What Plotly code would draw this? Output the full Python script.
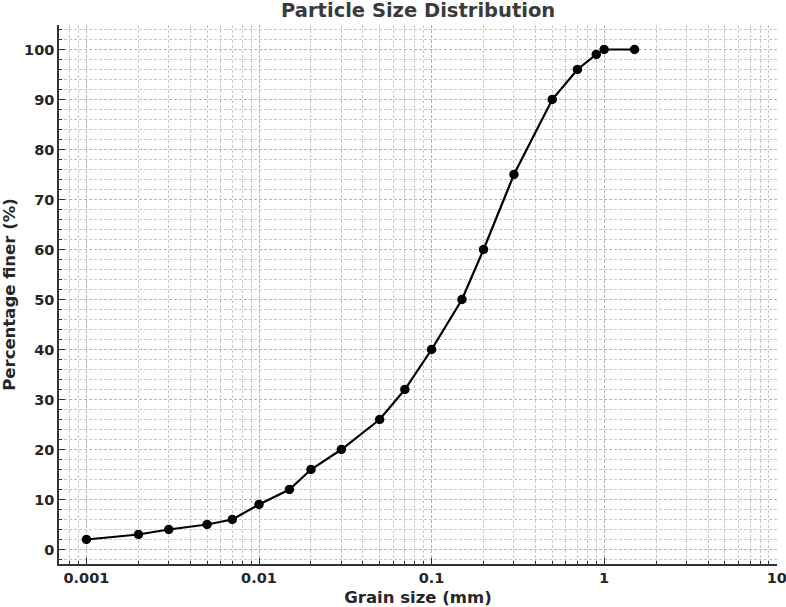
import plotly.graph_objects as go

grain_size_mm = [0.001, 0.002, 0.003, 0.005, 0.007, 0.01, 0.015, 0.02, 0.03, 0.05,
                 0.07, 0.1, 0.15, 0.2, 0.3, 0.5, 0.7, 0.9, 1.0, 1.5]
percent_finer = [2, 3, 4, 5, 6, 9, 12, 16, 20, 26,
                 32, 40, 50, 60, 75, 90, 96, 99, 100, 100]

x_tick_vals = [0.001, 0.01, 0.1, 1, 10]
x_tick_text = ["0.001", "0.01", "0.1", "1", "10"]
y_tick_vals = [0, 10, 20, 30, 40, 50, 60, 70, 80, 90, 100]

font_fam = "DejaVu Sans"
txt = "#262626"

fig = go.Figure()
fig.add_trace(go.Scatter(
    x=grain_size_mm, y=percent_finer, mode="lines+markers",
    line=dict(color="black", width=2.2),
    marker=dict(color="black", size=9.5),
    showlegend=False,
))

fig.update_layout(
    width=786, height=607,
    margin=dict(l=59, r=9, t=25, b=43),
    paper_bgcolor="white", plot_bgcolor="white",
    font=dict(family=font_fam, color=txt),
    title=dict(text="Particle Size Distribution", x=0.532, xanchor="center",
               y=0.994, yanchor="top", yref="container",
               font=dict(size=19.5, color="#3a3a3a", family=font_fam, weight="bold")),
)
fig.update_xaxes(
    type="log", range=[-3.159, 1.0015], automargin=False,
    tickvals=x_tick_vals, ticktext=x_tick_text, ticklabeloverflow="allow",
    ticks="inside", ticklen=6, tickwidth=1.2, tickcolor="#333",
    showline=True, linecolor="#333", linewidth=1.5, mirror=False,
    tickfont=dict(size=14.5, family=font_fam, color=txt, weight="bold"),
    title=dict(text="Grain size (mm)", font=dict(size=16.5, color=txt, weight="bold"), standoff=9),
    showgrid=True, gridcolor="#b5b5b5", gridwidth=0.8, griddash="3px,2px", zeroline=False,
    minor=dict(dtick="D1", ticks="inside", ticklen=3, tickcolor="#333",
               showgrid=True, gridcolor="#c8c8c8", gridwidth=0.8, griddash="3px,2px"),
)
fig.update_yaxes(
    range=[-2.9, 104.9], automargin=False,
    tickvals=y_tick_vals,
    ticks="inside", ticklen=6, tickwidth=1.2, tickcolor="#333",
    showline=True, linecolor="#333", linewidth=1.5, mirror=False,
    tickfont=dict(size=14.5, family=font_fam, color=txt, weight="bold"),
    title=dict(text="Percentage finer (%)", font=dict(size=16.5, color=txt, weight="bold"), standoff=11),
    showgrid=True, gridcolor="#b5b5b5", gridwidth=0.8, griddash="3px,2px", zeroline=False,
    minor=dict(dtick=2, ticks="inside", ticklen=3, tickcolor="#333",
               showgrid=True, gridcolor="#c8c8c8", gridwidth=0.8, griddash="3px,2px"),
)

fig.write_html("out.html")
